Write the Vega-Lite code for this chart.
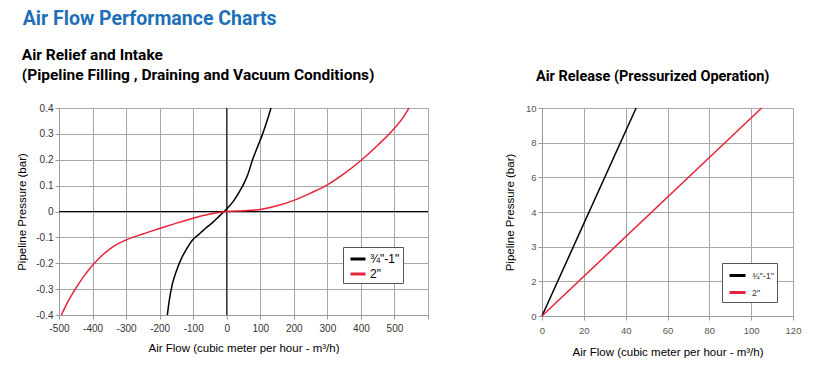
{
  "$schema": "https://vega.github.io/schema/vega-lite/v6.json",
  "background": "white",
  "padding": {"left": 16, "top": 9, "right": 5, "bottom": 5},
  "title": {"text": "Air Flow Performance Charts", "anchor": "start", "color": "#1d70b7", "font": "Roboto", "fontSize": 19.5, "fontWeight": "bold", "offset": 18, "frame": "bounds", "dx": 6},
  "spacing": 114,
  "bounds": "flush",
  "resolve": {"scale": {"color": "independent"}, "legend": {"color": "independent"}},
  "config": {
    "view": {"stroke": null},
    "axis": {
      "domainColor": "#9a9a9a", "gridColor": "#a8a8a8", "tickColor": "#9a9a9a", "tickSize": 4, "labelOverlap": false, "labelFlush": false,
      "labelFont": "Liberation Sans", "labelColor": "#333", "labelFontSize": 10,
      "titleFont": "Liberation Sans", "titleColor": "#000", "titleFontSize": 11.5, "titleFontWeight": "normal"
    },
    "title": {"font": "Roboto", "fontWeight": "bold", "color": "#000"}
  },
  "hconcat": [
    {
      "width": 369,
      "height": 207,
      "title": {"text": ["Air Relief and Intake", "(Pipeline Filling , Draining and Vacuum Conditions)"], "anchor": "start", "frame": "bounds", "fontSize": 15.5, "lineHeight": 20, "offset": 20, "dx": 5},
      "layer": [
        {
          "data": {"values": [{"v": 0}]},
          "mark": {"type": "rule", "color": "#000", "strokeWidth": 1},
          "encoding": {"x": {"field": "v", "type": "quantitative", "scale": {"domain": [-500, 600], "nice": false, "zero": false},
              "axis": {"values": [-500, -400, -300, -200, -100, 0, 100, 200, 300, 400, 500, 600], "labelOverlap": false, "labelFlush": false, "labelExpr": "datum.value == 600 ? '' : replace(datum.label, '−', '-')", "title": "Air Flow (cubic meter per hour - m³/h)", "labelPadding": 4, "titlePadding": 9}}}
        },
        {
          "data": {"values": [{"v": 0}]},
          "mark": {"type": "rule", "color": "#000", "strokeWidth": 1},
          "encoding": {"y": {"field": "v", "type": "quantitative", "scale": {"domain": [-0.4, 0.4], "nice": false},
              "axis": {"values": [-0.4, -0.3, -0.2, -0.1, 0, 0.1, 0.2, 0.3, 0.4], "labelOverlap": false, "labelFlush": false, "format": ".1~f", "labelExpr": "replace(datum.label, '−', '-')", "title": "Pipeline Pressure (bar)", "titlePadding": 8}}}
        },
        {
          "data": {"values": [
            {"size": "¾\"-1\"", "flow": -177, "pressure": -0.4},
            {"size": "¾\"-1\"", "flow": -172, "pressure": -0.35},
            {"size": "¾\"-1\"", "flow": -162, "pressure": -0.28},
            {"size": "¾\"-1\"", "flow": -150, "pressure": -0.23},
            {"size": "¾\"-1\"", "flow": -137, "pressure": -0.187},
            {"size": "¾\"-1\"", "flow": -120, "pressure": -0.145},
            {"size": "¾\"-1\"", "flow": -102, "pressure": -0.11},
            {"size": "¾\"-1\"", "flow": -80, "pressure": -0.085},
            {"size": "¾\"-1\"", "flow": -62, "pressure": -0.064},
            {"size": "¾\"-1\"", "flow": -40, "pressure": -0.04},
            {"size": "¾\"-1\"", "flow": -20, "pressure": -0.015},
            {"size": "¾\"-1\"", "flow": 0, "pressure": 0.01},
            {"size": "¾\"-1\"", "flow": 20, "pressure": 0.04},
            {"size": "¾\"-1\"", "flow": 37, "pressure": 0.075},
            {"size": "¾\"-1\"", "flow": 50, "pressure": 0.105},
            {"size": "¾\"-1\"", "flow": 62, "pressure": 0.14},
            {"size": "¾\"-1\"", "flow": 77, "pressure": 0.2},
            {"size": "¾\"-1\"", "flow": 92, "pressure": 0.25},
            {"size": "¾\"-1\"", "flow": 107, "pressure": 0.3},
            {"size": "¾\"-1\"", "flow": 120, "pressure": 0.35},
            {"size": "¾\"-1\"", "flow": 132, "pressure": 0.4},
            {"size": "2\"", "flow": -493, "pressure": -0.4},
            {"size": "2\"", "flow": -475, "pressure": -0.352},
            {"size": "2\"", "flow": -450, "pressure": -0.297},
            {"size": "2\"", "flow": -425, "pressure": -0.249},
            {"size": "2\"", "flow": -400, "pressure": -0.208},
            {"size": "2\"", "flow": -375, "pressure": -0.174},
            {"size": "2\"", "flow": -350, "pressure": -0.146},
            {"size": "2\"", "flow": -325, "pressure": -0.125},
            {"size": "2\"", "flow": -300, "pressure": -0.11},
            {"size": "2\"", "flow": -250, "pressure": -0.087},
            {"size": "2\"", "flow": -200, "pressure": -0.066},
            {"size": "2\"", "flow": -150, "pressure": -0.045},
            {"size": "2\"", "flow": -100, "pressure": -0.026},
            {"size": "2\"", "flow": -50, "pressure": -0.01},
            {"size": "2\"", "flow": 0, "pressure": 0},
            {"size": "2\"", "flow": 50, "pressure": 0.003},
            {"size": "2\"", "flow": 100, "pressure": 0.008},
            {"size": "2\"", "flow": 150, "pressure": 0.022},
            {"size": "2\"", "flow": 200, "pressure": 0.043},
            {"size": "2\"", "flow": 250, "pressure": 0.071},
            {"size": "2\"", "flow": 300, "pressure": 0.103},
            {"size": "2\"", "flow": 350, "pressure": 0.146},
            {"size": "2\"", "flow": 400, "pressure": 0.197},
            {"size": "2\"", "flow": 450, "pressure": 0.256},
            {"size": "2\"", "flow": 500, "pressure": 0.322},
            {"size": "2\"", "flow": 525, "pressure": 0.362},
            {"size": "2\"", "flow": 543, "pressure": 0.4}
          ]},
          "mark": {"type": "line", "interpolate": "monotone", "strokeWidth": 1.5},
          "encoding": {
            "x": {"field": "flow", "type": "quantitative", "scale": {"domain": [-500, 600], "nice": false, "zero": false},
              "axis": {"values": [-500, -400, -300, -200, -100, 0, 100, 200, 300, 400, 500, 600], "labelOverlap": false, "labelFlush": false, "labelExpr": "datum.value == 600 ? '' : replace(datum.label, '−', '-')", "title": "Air Flow (cubic meter per hour - m³/h)", "labelPadding": 4, "titlePadding": 9}},
            "y": {"field": "pressure", "type": "quantitative", "scale": {"domain": [-0.4, 0.4], "nice": false},
              "axis": {"values": [-0.4, -0.3, -0.2, -0.1, 0, 0.1, 0.2, 0.3, 0.4], "labelOverlap": false, "labelFlush": false, "format": ".1~f", "labelExpr": "replace(datum.label, '−', '-')", "title": "Pipeline Pressure (bar)", "titlePadding": 8}},
            "color": {"field": "size", "type": "nominal", "scale": {"domain": ["¾\"-1\"", "2\""], "range": ["#000000", "#e8213a"]},
              "legend": {"title": null, "orient": "none", "legendX": 284, "legendY": 139, "strokeColor": "#555", "fillColor": "#fff", "padding": 3, "symbolType": "stroke", "symbolStrokeWidth": 3, "symbolSize": 225, "labelFontSize": 12, "labelFont": "Liberation Sans", "labelColor": "#000", "rowPadding": 0, "labelOffset": 3, "symbolOffset": 3}}
          }
        }
      ]
    },
    {
      "width": 251,
      "height": 208,
      "title": {"text": "Air Release (Pressurized Operation)", "anchor": "middle", "frame": "bounds", "fontSize": 14.5, "offset": 19},
      "data": {"values": [
        {"size": "¾\"-1\"", "flow": 0, "pressure": 0},
        {"size": "¾\"-1\"", "flow": 45, "pressure": 10},
        {"size": "2\"", "flow": 0, "pressure": 0},
        {"size": "2\"", "flow": 105, "pressure": 10}
      ]},
      "mark": {"type": "line", "strokeWidth": 1.5},
      "encoding": {
        "x": {"field": "flow", "type": "quantitative", "scale": {"domain": [0, 120], "nice": false},
          "axis": {"values": [0, 20, 40, 60, 80, 100, 120], "labelOverlap": false, "labelFlush": false, "title": "Air Flow (cubic meter per hour - m³/h)", "labelFontSize": 9.5, "labelColor": "#555", "labelPadding": 5, "titlePadding": 12}},
        "y": {"field": "pressure", "type": "quantitative", "scale": {"domain": [0, 2, 3, 4, 6, 8, 10], "range": [208, 173.3, 138.7, 104, 69.3, 34.7, 0]},
          "axis": {"values": [0, 2, 3, 4, 6, 8, 10], "labelOverlap": false, "labelFlush": false, "title": "Pipeline Pressure (bar)", "labelFontSize": 9.5, "labelColor": "#555", "titlePadding": 10}},
        "color": {"field": "size", "type": "nominal", "scale": {"domain": ["¾\"-1\"", "2\""], "range": ["#000000", "#e8213a"]},
          "legend": {"title": null, "orient": "none", "legendX": 180, "legendY": 155, "strokeColor": "#555", "fillColor": "#fff", "padding": 3, "symbolType": "stroke", "symbolStrokeWidth": 3, "symbolSize": 256, "labelFontSize": 9, "labelFont": "Liberation Sans", "labelColor": "#333", "rowPadding": 1, "labelOffset": 5, "symbolOffset": 3}}
      }
    }
  ]
}
